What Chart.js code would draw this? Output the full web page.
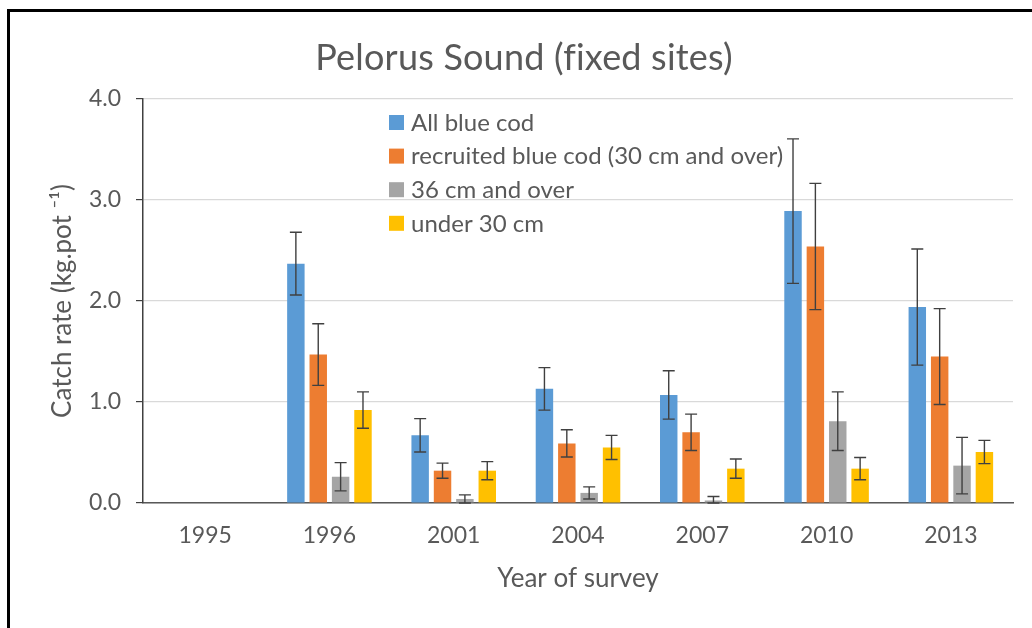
<!DOCTYPE html>
<html>
<head>
<meta charset="utf-8">
<script src="https://cdn.jsdelivr.net/npm/chart.js@4/dist/chart.umd.min.js"></script>
<style>
  html, body { margin: 0; padding: 0; background: #fff; }
  #wrap { position: relative; width: 1032px; height: 628px; overflow: hidden; }
  #frame { position: absolute; left: 7px; top: 9px; right: -10px; bottom: -10px;
           border-top: 3px solid #000; border-left: 3px solid #000; pointer-events: none; }
  canvas { position: absolute; left: 0; top: 0; }
</style>
</head>
<body>
<div id="wrap">
  <canvas id="c" width="1032" height="628"></canvas>
  <div id="frame"></div>
</div>
<script>
// ---- data ----
const chartTitle = 'Pelorus Sound (fixed sites)';
const years = ['1995', '1996', '2001', '2004', '2007', '2010', '2013'];
const seriesNames = ['All blue cod', 'recruited blue cod (30 cm and over)', '36 cm and over', 'under 30 cm'];
const allBlueCod    = [null, 2.37, 0.67, 1.13, 1.07, 2.89, 1.94];
const allBlueCodErr = [null, 0.31, 0.165, 0.21, 0.24, 0.715, 0.575];
const recruited     = [null, 1.47, 0.32, 0.59, 0.70, 2.54, 1.45];
const recruitedErr  = [null, 0.305, 0.075, 0.135, 0.18, 0.625, 0.475];
const over36        = [null, 0.26, 0.04, 0.10, 0.025, 0.81, 0.37];
const over36Err     = [null, 0.14, 0.04, 0.06, 0.04, 0.29, 0.28];
const under30       = [null, 0.92, 0.32, 0.55, 0.34, 0.34, 0.505];
const under30Err    = [null, 0.18, 0.09, 0.12, 0.095, 0.11, 0.115];
const yTicks = [0, 1, 2, 3, 4];

const TEXT = '#595959';
const FONT = 'Lato, "Open Sans", sans-serif';
const colors = ['#5B9BD5', '#ED7D31', '#A5A5A5', '#FFC000'];
const values = [allBlueCod, recruited, over36, under30];
const errors = [allBlueCodErr, recruitedErr, over36Err, under30Err];

const errorBarPlugin = {
  id: 'errorBars',
  afterDatasetsDraw(chart) {
    const ctx = chart.ctx;
    const y = chart.scales.y;
    ctx.save();
    ctx.strokeStyle = '#404040';
    ctx.lineWidth = 1.4;
    chart.data.datasets.forEach((ds, di) => {
      const meta = chart.getDatasetMeta(di);
      meta.data.forEach((bar, i) => {
        const v = ds.data[i], e = ds.errors[i];
        if (v == null || e == null) return;
        const yt = y.getPixelForValue(v + e);
        const yb = y.getPixelForValue(Math.max(0, v - e));
        const cap = 6;
        ctx.beginPath();
        ctx.moveTo(bar.x, yt); ctx.lineTo(bar.x, yb);
        ctx.moveTo(bar.x - cap, yt); ctx.lineTo(bar.x + cap, yt);
        ctx.moveTo(bar.x - cap, yb); ctx.lineTo(bar.x + cap, yb);
        ctx.stroke();
      });
    });
    ctx.restore();
  }
};

const decorPlugin = {
  id: 'decor',
  afterDraw(chart) {
    const ctx = chart.ctx;
    ctx.save();
    // title
    ctx.fillStyle = TEXT;
    ctx.font = '36px ' + FONT;
    try { ctx.letterSpacing = '0.2px'; } catch (e) {}
    ctx.textAlign = 'center';
    ctx.textBaseline = 'middle';
    ctx.fillText(chartTitle, 524, 58);
    try { ctx.letterSpacing = '0px'; } catch (e) {}
    // legend
    ctx.font = '24px ' + FONT;
    ctx.textAlign = 'left';
    chart.data.datasets.forEach((ds, i) => {
      const cy = 122 + i * 33.6;
      ctx.fillStyle = ds.backgroundColor;
      ctx.fillRect(389, cy - 7, 15, 15);
      ctx.fillStyle = TEXT;
      ctx.fillText(ds.label, 411, cy + 1);
    });
    ctx.restore();
  }
};

new Chart(document.getElementById('c'), {
  type: 'bar',
  data: {
    labels: years,
    datasets: seriesNames.map((name, i) => ({
      label: name,
      data: values[i],
      errors: errors[i],
      backgroundColor: colors[i],
      borderWidth: 0,
      categoryPercentage: 0.72,
      barPercentage: 0.78
    }))
  },
  options: {
    responsive: false,
    animation: false,
    devicePixelRatio: 1,
    layout: { padding: { top: 99, right: 19, left: 0, bottom: 0 } },
    plugins: {
      legend: { display: false },
      title: { display: false },
      tooltip: { enabled: false }
    },
    scales: {
      x: {
        afterFit(scale) { scale.height = 125; },
        grid: { display: true, color: 'rgba(0,0,0,0)', drawTicks: false },
        border: { display: true, color: '#595959', width: 1.5 },
        ticks: { color: TEXT, font: { family: FONT, size: 23 }, padding: 19 },
        title: {
          display: true, text: 'Year of survey', color: TEXT,
          font: { family: FONT, size: 26 }, padding: { top: 0, bottom: 34 }
        }
      },
      y: {
        min: 0, max: 4,
        afterFit(scale) { scale.width = 143; },
        afterBuildTicks(scale) { scale.ticks = yTicks.map(v => ({ value: v })); },
        grid: { color: '#D9D9D9', lineWidth: 1.2, tickColor: '#404040', tickLength: 7 },
        border: { display: true, color: '#404040', width: 1.5 },
        ticks: {
          color: TEXT, font: { family: FONT, size: 23 }, padding: 15,
          callback: v => Number(v).toFixed(1)
        },
        title: {
          display: true, text: 'Catch rate (kg.pot ⁻¹)', color: TEXT,
          font: { family: FONT, size: 26 }, padding: { top: 47, bottom: 0 }
        }
      }
    }
  },
  plugins: [errorBarPlugin, decorPlugin]
});
</script>
</body>
</html>
